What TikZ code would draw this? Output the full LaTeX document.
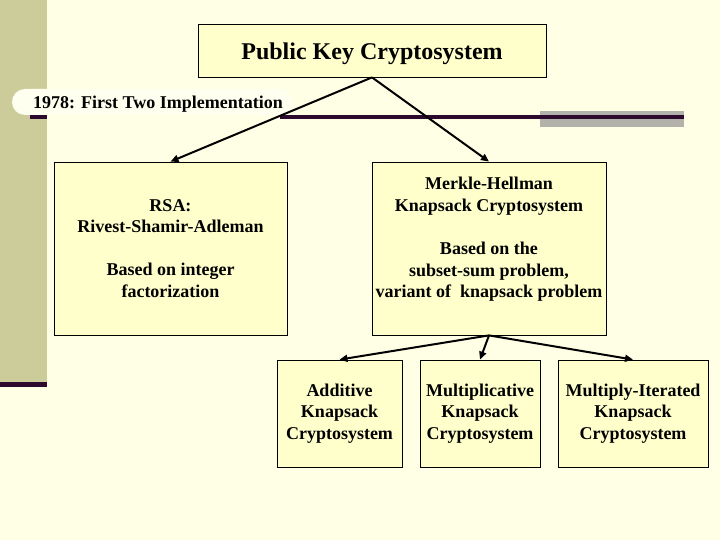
\documentclass[tikz,border=0pt]{standalone}
\usepackage{fontspec}
\setmainfont{Liberation Serif}
\usetikzlibrary{arrows.meta}

\definecolor{pagebg}{HTML}{FFFFE5}
\definecolor{boxfill}{HTML}{FFFFCC}
\definecolor{bandfill}{HTML}{CCCC9A}
\definecolor{rulecol}{HTML}{2D0A2D}
\definecolor{barfill}{HTML}{B2B2AA}
\definecolor{tagfill}{HTML}{FFFFF0}

\begin{document}
\begin{tikzpicture}[
  x=1pt, y=-1pt,
  font=\bfseries\fontsize{18}{21.6}\selectfont,
  box/.style={draw, line width=0.8pt, fill=boxfill, inner sep=0pt, align=center},
  link/.style={line width=2pt, -{Triangle[length=8pt,width=7pt]}}
]
  % page and slide decoration
  \fill[pagebg] (0,0) rectangle (720,540);
  \useasboundingbox (0,0) rectangle (720,540);
  \fill[bandfill] (0,0) rectangle (47,382);
  \fill[rulecol] (0,382) rectangle (47,387);
  \fill[barfill] (540,111) rectangle (684,127);
  \draw[rulecol, line width=4pt] (30,117) -- (47,117);
  \draw[rulecol, line width=4pt] (280,117) -- (684,117);
  \fill[tagfill, rounded corners=13pt] (12,89) rectangle (292,115);
  \node (year) at (158,104) {1978: First Two Implementation};

  % boxes
  \node[box, minimum width=348, minimum height=53, text height=20pt, text depth=1pt,
    font=\bfseries\fontsize{24}{28.8}\selectfont]
    (top) at (372,50.5) {Public Key Cryptosystem};
  \node[box, minimum width=233, minimum height=173] (rsa) at (170.5,248.5)
    {RSA:\\Rivest-Shamir-Adleman\\[21.6pt]Based on integer\\factorization};
  \node[box, minimum width=234, minimum height=173] (mh) at (489,248.5)
    {Merkle-Hellman\\Knapsack Cryptosystem\\[21.6pt]Based on the\\subset-sum problem,\\variant of~ knapsack problem\\ \mbox{}};
  \node[box, minimum width=125, minimum height=107] (add) at (339.5,413.5)
    {Additive\\Knapsack\\Cryptosystem};
  \node[box, minimum width=120, minimum height=107] (mult) at (480,413.5)
    {Multiplicative\\Knapsack\\Cryptosystem};
  \node[box, minimum width=150, minimum height=107] (iter) at (633,413.5)
    {Multiply-Iterated\\Knapsack\\Cryptosystem};

  % arrows
  \draw[link] (top.south) -- (rsa.north);
  \draw[link] (top.south) -- (mh.north);
  \draw[link] (mh.south) -- (add.north);
  \draw[link] (mh.south) -- (mult.north);
  \draw[link] (mh.south) -- (iter.north);
\end{tikzpicture}
\end{document}
